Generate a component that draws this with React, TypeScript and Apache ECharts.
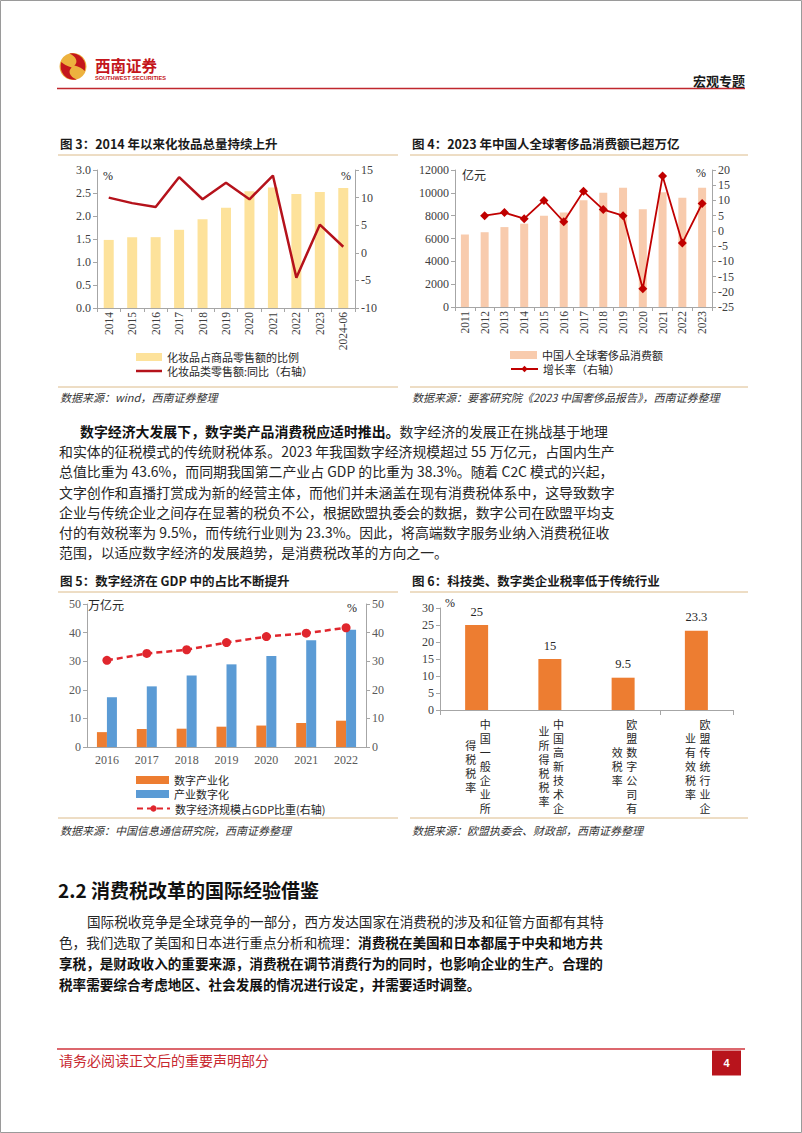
import React, { useEffect, useRef } from 'react';
import * as echarts from 'echarts';

// ---------- Data ----------
const cats3 = ['2014', '2015', '2016', '2017', '2018', '2019', '2020', '2021', '2022', '2023', '2024-06'];
const share3 = [1.48, 1.54, 1.54, 1.7, 1.93, 2.18, 2.54, 2.62, 2.48, 2.52, 2.61];
const yoy3 = [10.0, 9.0, 8.3, 13.7, 9.7, 12.7, 9.7, 14.0, -4.5, 5.1, 1.1];

const cats4 = ['2011', '2012', '2013', '2014', '2015', '2016', '2017', '2018', '2019', '2020', '2021', '2022', '2023'];
const lux4 = [6350, 6550, 7000, 7300, 8000, 8280, 9350, 10000, 10450, 8560, 10050, 9580, 10450];
const growth4 = [null, 5, 6, 4, 10, 3, 13, 7, 5, -19, 18, -4, 9];

const cats5 = ['2016', '2017', '2018', '2019', '2020', '2021', '2022'];
const digInd5 = [5.2, 6.3, 6.4, 7.1, 7.5, 8.4, 9.2];
const indDig5 = [17.4, 21.2, 25.0, 28.9, 31.8, 37.3, 41.0];
const gdpShare5 = [30.3, 32.7, 34.0, 36.5, 38.6, 39.8, 41.7];

const cats6 = ['中国一般企业所得税税率', '中国高新技术企业所得税税率', '欧盟数字公司有效税率', '欧盟传统行业企业有效税率'];
const rates6 = [25, 15, 9.5, 23.3];

const para1: [string, boolean][][] = [
  [['数字经济大发展下，数字类产品消费税应适时推出。', true], ['数字经济的发展正在挑战基于地理', false]],
  [['和实体的征税模式的传统财税体系。2023 年我国数字经济规模超过 55 万亿元，占国内生产', false]],
  [['总值比重为 43.6%，而同期我国第二产业占 GDP 的比重为 38.3%。随着 C2C 模式的兴起，', false]],
  [['文字创作和直播打赏成为新的经营主体，而他们并未涵盖在现有消费税体系中，这导致数字', false]],
  [['企业与传统企业之间存在显著的税负不公，根据欧盟执委会的数据，数字公司在欧盟平均支', false]],
  [['付的有效税率为 9.5%，而传统行业则为 23.3%。因此，将高端数字服务业纳入消费税征收', false]],
  [['范围，以适应数字经济的发展趋势，是消费税改革的方向之一。', false]],
];
const para2: [string, boolean][][] = [
  [['国际税收竞争是全球竞争的一部分，西方发达国家在消费税的涉及和征管方面都有其特', false]],
  [['色，我们选取了美国和日本进行重点分析和梳理：', false], ['消费税在美国和日本都属于中央和地方共', true]],
  [['享税，是财政收入的重要来源，消费税在调节消费行为的同时，也影响企业的生产。合理的', true]],
  [['税率需要综合考虑地区、社会发展的情况进行设定，并需要适时调整。', true]],
];

// ---------- Styles ----------
const CJK = "'Noto Sans CJK SC', 'Noto Sans', sans-serif";
const SERIF = "'Liberation Serif', 'DejaVu Serif', serif";
const AX = '#A6A6A6';
const LBL = '#404040';
const TAN = '#DCBB8A';
const RED = '#C8282F';

echarts.graphic.registerShape(
  'logoRedA',
  echarts.graphic.extendPath('M2 10 A15 15 0 0 0 19 29.5 C 11 26 9 20 13.5 16 C 8 14.5 4.5 12.5 2 10 Z', {})
);
echarts.graphic.registerShape(
  'logoRedB',
  echarts.graphic.extendPath('M28 20 A15 15 0 0 0 11 0.5 C 19 4 21 10 16.5 14 C 22 15.5 25.5 17.5 28 20 Z', {})
);

function txt(text: string, x: number, y: number, o: any = {}) {
  return {
    type: 'text',
    x,
    y,
    z: 10,
    style: {
      text,
      fontSize: o.fontSize || 12,
      fontFamily: o.fontFamily || CJK,
      fontWeight: o.fontWeight || 'normal',
      fontStyle: o.fontStyle || 'normal',
      fill: o.fill || '#1a1a1a',
      textAlign: o.align || 'left',
      textVerticalAlign: o.valign || 'middle',
      lineHeight: o.lineHeight,
    },
  };
}
function hline(x1: number, x2: number, y: number, color: string, w = 1) {
  return { type: 'line', z: 5, shape: { x1, y1: y, x2, y2: y }, style: { stroke: color, lineWidth: w } };
}
function richLine(segs: [string, boolean][], x: number, y: number, fs: number) {
  const text = segs.map((s) => `{${s[1] ? 'b' : 'n'}|${s[0]}}`).join('');
  return {
    type: 'text',
    x,
    y,
    z: 10,
    style: {
      text,
      textVerticalAlign: 'middle',
      rich: {
        n: { fontSize: fs, fontFamily: CJK, fontWeight: 'normal', fill: '#262626' },
        b: { fontSize: fs, fontFamily: CJK, fontWeight: 'bold', fill: '#111111' },
      },
    },
  };
}

function staticGraphics(): any[] {
  const els: any[] = [];
  els.push({ type: 'rect', z: 1, shape: { x: 0.5, y: 0.5, width: 801, height: 1132 }, style: { fill: 'none', stroke: '#9A9A9A', lineWidth: 1 } });
  // header
  els.push({ type: 'circle', z: 6, shape: { cx: 73, cy: 66.5, r: 13.5 }, style: { fill: '#EDB23E' } });
  els.push({ type: 'logoRedA', z: 7, x: 59.5, y: 53, scaleX: 0.9, scaleY: 0.9, style: { fill: '#C4161C' } });
  els.push({ type: 'logoRedB', z: 7, x: 59.5, y: 53, scaleX: 0.9, scaleY: 0.9, style: { fill: '#C4161C' } });
  els.push(txt('西南证券', 95, 64.5, { fontSize: 15.5, fontWeight: 'bold', fill: '#C4161C' }));
  els.push(txt('SOUTHWEST SECURITIES', 95, 78, { fontSize: 5.6, fontWeight: 'bold', fill: '#C4161C', fontFamily: "'Liberation Sans', sans-serif" }));
  els.push(txt('宏观专题', 745, 80, { fontSize: 13, fontWeight: 'bold', align: 'right' }));
  els.push(hline(57, 745, 88.5, '#C0272D', 1.5));

  // figure titles & rules
  els.push(txt('图 3：2014 年以来化妆品总量持续上升', 60, 143, { fontSize: 12.5, fontWeight: 'bold' }));
  els.push(txt('图 4：2023 年中国人全球奢侈品消费额已超万亿', 412, 143, { fontSize: 12.5, fontWeight: 'bold' }));
  els.push(txt('图 5：数字经济在 GDP 中的占比不断提升', 60, 580, { fontSize: 12.5, fontWeight: 'bold' }));
  els.push(txt('图 6：科技类、数字类企业税率低于传统行业', 412, 580, { fontSize: 12.5, fontWeight: 'bold' }));
  els.push(hline(58, 398, 155, TAN));
  els.push(hline(410, 748, 155, TAN));
  els.push(hline(58, 398, 387, TAN));
  els.push(hline(410, 748, 387, TAN));
  els.push(hline(58, 398, 592, TAN));
  els.push(hline(410, 748, 592, TAN));
  els.push(hline(58, 398, 818, TAN));
  els.push(hline(410, 748, 818, TAN));

  const src = { fontSize: 11, fontStyle: 'italic', fill: '#333333' };
  els.push(txt('数据来源：wind，西南证券整理', 60, 397, src));
  els.push(txt('数据来源：要客研究院《2023 中国奢侈品报告》，西南证券整理', 412, 397, src));
  els.push(txt('数据来源：中国信息通信研究院，西南证券整理', 60, 830, src));
  els.push(txt('数据来源：欧盟执委会、财政部，西南证券整理', 412, 830, src));

  // unit labels
  const u = { fontSize: 12, fill: '#262626' };
  els.push(txt('%', 108, 176, { ...u, fontFamily: SERIF, align: 'center' }));
  els.push(txt('%', 346, 176, { ...u, fontFamily: SERIF, align: 'center' }));
  els.push(txt('亿元', 462, 174, u));
  els.push(txt('%', 701, 173, { ...u, fontFamily: SERIF, align: 'center' }));
  els.push(txt('万亿元', 88, 604, u));
  els.push(txt('%', 352, 608, { ...u, fontFamily: SERIF, align: 'center' }));
  els.push(txt('%', 450, 603, { ...u, fontFamily: SERIF, align: 'center' }));

  // paragraph 1
  const p1y = [431, 451.2, 471.4, 491.6, 511.8, 532, 552];
  para1.forEach((segs, i) => els.push(richLine(segs, i === 0 ? 80 : 59, p1y[i], 13.9)));

  // section 2.2
  els.push(txt('2.2 消费税改革的国际经验借鉴', 58, 889, { fontSize: 19, fontWeight: 'bold', fill: '#111' }));
  const p2y = [921, 942, 963, 983.5];
  para2.forEach((segs, i) => els.push(richLine(segs, i === 0 ? 87 : 59, p2y[i], 13.6)));

  // footer
  els.push(hline(57, 745, 1049, '#D0343C', 1.5));
  els.push(txt('请务必阅读正文后的重要声明部分', 59, 1060, { fontSize: 14, fill: RED }));
  els.push({ type: 'rect', z: 6, shape: { x: 712, y: 1050.5, width: 29, height: 25 }, style: { fill: '#B8141C' } });
  els.push(txt('4', 726.5, 1063, { fontSize: 11, fill: '#ffffff', align: 'center', fontWeight: 'bold', fontFamily: "'Liberation Sans', sans-serif" }));
  return els;
}

function catAxis(gridIndex: number, data: string[], extra: any = {}) {
  return {
    type: 'category',
    gridIndex,
    data,
    axisLine: { show: true, lineStyle: { color: AX, width: 1 } },
    axisTick: { show: true, length: 4, lineStyle: { color: AX } },
    axisLabel: { interval: 0, fontFamily: SERIF, fontSize: 11.5, color: LBL, margin: 5 },
    ...extra,
  };
}
function valAxis(gridIndex: number, position: string, min: number, max: number, interval: number, extra: any = {}) {
  return {
    type: 'value',
    gridIndex,
    position,
    min,
    max,
    interval,
    axisLine: { show: true, lineStyle: { color: AX, width: 1 } },
    axisTick: { show: true, length: 4, lineStyle: { color: AX } },
    splitLine: { show: false },
    axisLabel: { fontFamily: SERIF, fontSize: 12, color: LBL, margin: 6, formatter: (v: number) => String(v) },
    ...extra,
  };
}
function legendItem(name: string, left: number, centerY: number, itemWidth: number, icon?: string, itemHeight = 8) {
  return {
    data: [icon ? { name, icon } : { name }],
    left,
    top: centerY - 6.5,
    padding: 0,
    itemWidth,
    itemHeight,
    selectedMode: false,
    textStyle: { fontFamily: CJK, fontSize: 11, color: '#262626', lineHeight: 13 },
  };
}

export default function App() {
  const ref = useRef<HTMLDivElement>(null);
  useEffect(() => {
    document.body.style.margin = '0';
    if (!ref.current) return;
    const chart = echarts.init(ref.current, undefined, { renderer: 'svg' });
    const baseGraphics = staticGraphics();
    const option: any = {
      animation: false,
      backgroundColor: '#ffffff',
      grid: [
        { left: 97, top: 170, width: 258, height: 138 },
        { left: 455, top: 170, width: 257, height: 137 },
        { left: 87, top: 604, width: 279, height: 143 },
        { left: 440, top: 608, width: 293, height: 102 },
      ],
      xAxis: [
        catAxis(0, cats3, { axisLabel: { interval: 0, rotate: 90, fontFamily: SERIF, fontSize: 11.5, color: LBL, margin: 4 } }),
        catAxis(1, cats4, { axisLabel: { interval: 0, rotate: 90, fontFamily: SERIF, fontSize: 11.5, color: LBL, margin: 4 } }),
        catAxis(2, cats5, { axisTick: { show: false }, axisLabel: { interval: 0, fontFamily: SERIF, fontSize: 12, color: '#595959', margin: 7 } }),
        catAxis(3, cats6, { axisTick: { show: true, length: 5, lineStyle: { color: AX } }, axisLabel: { show: false } }),
      ],
      yAxis: [
        valAxis(0, 'left', 0, 3, 0.5, { axisLabel: { fontFamily: SERIF, fontSize: 12, color: LBL, margin: 6, formatter: (v: number) => v.toFixed(1) } }),
        valAxis(0, 'right', -10, 15, 5),
        valAxis(1, 'left', 0, 12000, 2000),
        valAxis(1, 'right', -25, 20, 5),
        valAxis(2, 'left', 0, 50, 10, { axisLabel: { fontFamily: SERIF, fontSize: 12, color: '#595959', margin: 6 } }),
        valAxis(2, 'right', 0, 50, 10, { axisLabel: { fontFamily: SERIF, fontSize: 12, color: '#595959', margin: 6 } }),
        valAxis(3, 'left', 0, 30, 5),
      ],
      legend: [
        legendItem('化妆品占商品零售额的比例', 136, 357, 26, 'rect'),
        legendItem('化妆品类零售额:同比（右轴）', 136, 371, 26, 'rect', 2.5),
        legendItem('中国人全球奢侈品消费额', 510, 355, 27, 'rect'),
        legendItem('增长率（右轴）', 510, 369, 27),
        legendItem('数字产业化', 136, 780, 33, 'rect'),
        legendItem('产业数字化', 136, 794, 33, 'rect'),
        legendItem('数字经济规模占GDP比重(右轴)', 136, 808.5, 33),
      ],
      series: [
        { type: 'bar', name: '化妆品占商品零售额的比例', xAxisIndex: 0, yAxisIndex: 0, data: share3, barWidth: 10, itemStyle: { color: '#FDE29B' } },
        { type: 'line', name: '化妆品类零售额:同比（右轴）', xAxisIndex: 0, yAxisIndex: 1, data: yoy3, symbol: 'none', z: 3, itemStyle: { color: '#B5121B' }, lineStyle: { color: '#B5121B', width: 2.5 } },
        { type: 'bar', name: '中国人全球奢侈品消费额', xAxisIndex: 1, yAxisIndex: 2, data: lux4, barWidth: 8, itemStyle: { color: '#F8CBAD' } },
        { type: 'line', name: '增长率（右轴）', xAxisIndex: 1, yAxisIndex: 3, data: growth4, symbol: 'diamond', symbolSize: 9, z: 3, itemStyle: { color: '#C00000' }, lineStyle: { color: '#C00000', width: 1.8 } },
        { type: 'bar', name: '数字产业化', xAxisIndex: 2, yAxisIndex: 4, data: digInd5, barWidth: 10, barGap: '0%', itemStyle: { color: '#ED7D31' } },
        { type: 'bar', name: '产业数字化', xAxisIndex: 2, yAxisIndex: 4, data: indDig5, barWidth: 10, barGap: '0%', itemStyle: { color: '#5B9BD5' } },
        { type: 'line', name: '数字经济规模占GDP比重(右轴)', xAxisIndex: 2, yAxisIndex: 5, data: gdpShare5, symbol: 'circle', symbolSize: 9, z: 3, itemStyle: { color: '#E0262D' }, lineStyle: { color: '#E0262D', width: 2.5, type: [6, 4] } },
        {
          type: 'bar', name: '税率', xAxisIndex: 3, yAxisIndex: 6, data: rates6, barWidth: 23, itemStyle: { color: '#ED7D31' },
          label: { show: true, position: 'top', distance: 7, fontFamily: SERIF, fontSize: 12.5, color: '#262626' },
        },
      ],
      graphic: { elements: baseGraphics.map((e, i) => ({ ...e, id: 'g' + i })) },
    };
    chart.setOption(option);

    // vertical category labels for figure 6 (one glyph per text), positioned with the axis scale
    const labels: any[] = [];
    const pitch = 14;
    const y0 = chart.convertToPixel({ yAxisIndex: 6 } as any, 0) as number;
    cats6.forEach((c, i) => {
      const cx = chart.convertToPixel({ xAxisIndex: 3 } as any, i) as number;
      const colA = c.slice(0, 7);
      const colB = c.slice(7);
      const top = y0 + 13.5;
      colA.split('').forEach((ch, k) => {
        labels.push(txt(ch, cx + 8.5, top + k * pitch, { fontSize: 11, align: 'center', fill: '#262626' }));
      });
      const offB = ((colA.length - colB.length) / 2) * pitch;
      colB.split('').forEach((ch, k) => {
        labels.push(txt(ch, cx - 6, top + offB + k * pitch, { fontSize: 11, align: 'center', fill: '#262626' }));
      });
    });
    const all = [...baseGraphics, ...labels].map((e, i) => ({ ...e, id: 'g' + i }));
    chart.setOption({ graphic: { elements: all } });

    return () => chart.dispose();
  }, []);
  return <div ref={ref} style={{ width: 802, height: 1133 }} />;
}
